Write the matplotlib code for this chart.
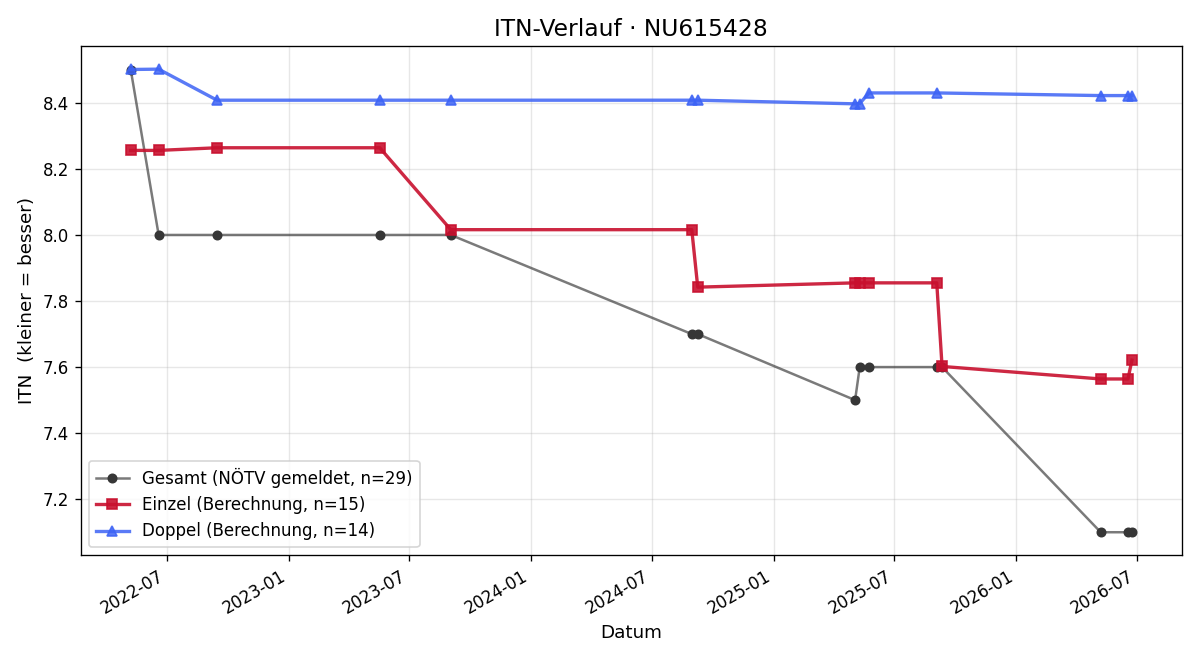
"""
ITN-Verlauf fuer einen Spieler: Gesamt (gemeldet) vs. Einzel/Doppel (berechnet).
"""

import matplotlib
matplotlib.use("Agg")
import matplotlib.pyplot as plt
import matplotlib.dates as mdates
import pandas as pd

# Daten
dates = pd.to_datetime([
    "2022-05-08", "2022-06-19", "2022-09-15", "2023-05-18", "2023-09-02",
    "2024-08-30", "2024-09-08", "2025-05-03", "2025-05-10", "2025-05-24",
    "2025-09-03", "2025-09-11", "2026-05-08", "2026-06-18", "2026-06-24",
])
gesamt = [8.5, 8.0, 8.0, 8.0, 8.0, 7.7, 7.7, 7.5, 7.6, 7.6, 7.6, 7.6, 7.1, 7.1, 7.1]

einzel_dates = dates
einzel = [8.256, 8.256, 8.264, 8.264, 8.016, 8.016, 7.842, 7.855, 7.855, 7.855,
          7.855, 7.602, 7.564, 7.564, 7.621]

doppel_dates = dates[[0, 1, 2, 3, 4, 5, 6, 7, 8, 9, 10, 12, 13, 14]]
doppel = [8.501, 8.502, 8.408, 8.408, 8.408, 8.408, 8.408, 8.397, 8.398, 8.430,
          8.430, 8.422, 8.422, 8.422]

fig, ax = plt.subplots(figsize=(10, 5.5), dpi=120)

# Linie halbtransparent, Marker deckend
ax.plot(dates, gesamt, 'o-', color=(0.2, 0.2, 0.2, 0.65), linewidth=1.5,
        markersize=5, markerfacecolor='#363636', markeredgecolor='#363636',
        label='Gesamt (NÖTV gemeldet, n=29)')
ax.plot(einzel_dates, einzel, 's-', color='#C8102E', alpha=0.9, linewidth=2,
        markersize=6, label='Einzel (Berechnung, n=15)')
ax.plot(doppel_dates, doppel, '^-', color='#3D63F5', alpha=0.85, linewidth=2,
        markersize=6, label='Doppel (Berechnung, n=14)')

ax.set_title('ITN-Verlauf · NU615428', fontsize=14)
ax.set_xlabel('Datum', fontsize=11)
ax.set_ylabel('ITN  (kleiner = besser)', fontsize=11)
ax.grid(True, alpha=0.3)
ax.xaxis.set_major_locator(mdates.MonthLocator(bymonth=[1, 7]))
ax.xaxis.set_major_formatter(mdates.DateFormatter('%Y-%m'))
ax.legend(loc='lower left')
fig.autofmt_xdate()

plt.tight_layout()
plt.savefig('out.png', dpi=120)
plt.close()
